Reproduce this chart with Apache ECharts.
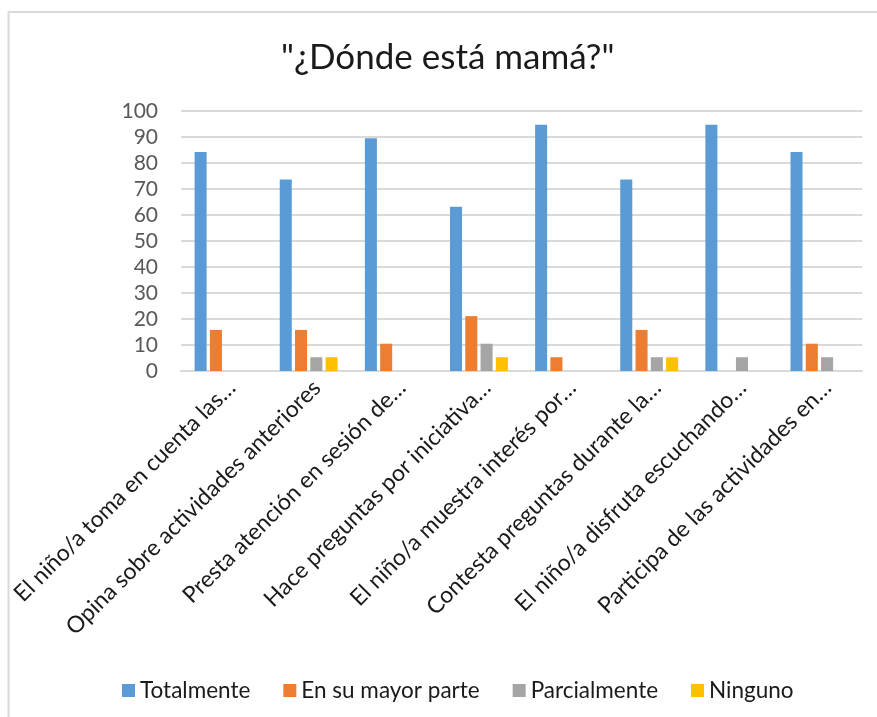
<!DOCTYPE html>
<html>
<head>
<meta charset="utf-8">
<script src="https://cdn.jsdelivr.net/npm/echarts@6/dist/echarts.min.js"></script>
<style>
  html, body { margin: 0; padding: 0; background: #fff; }
  #chart { width: 877px; height: 717px; }
</style>
</head>
<body>
<div id="chart"></div>
<script>
// categorias (texto recortado como en la imagen)
var categories = [
  "El niño/a toma en cuenta las…",
  "Opina sobre actividades anteriores",
  "Presta atención en sesión de…",
  "Hace preguntas por iniciativa…",
  "El niño/a muestra interés por…",
  "Contesta preguntas durante la…",
  "El niño/a disfruta escuchando…",
  "Participa de las actividades en…"
];
var seriesNames = ["Totalmente", "En su mayor parte", "Parcialmente", "Ninguno"];
var totalmente = [84.2, 73.7, 89.5, 63.2, 94.7, 73.7, 94.7, 84.2];
var mayorParte = [15.8, 15.8, 10.5, 21.1, 5.3, 15.8, 0, 10.5];
var parcialmente = [0, 5.3, 0, 10.5, 0, 5.3, 5.3, 5.3];
var ninguno = [0, 5.3, 0, 5.3, 0, 5.3, 0, 0];
var yTicks = [0, 10, 20, 30, 40, 50, 60, 70, 80, 90, 100];

var colors = ["#5B9BD5", "#ED7D31", "#A5A5A5", "#FFC000"];
var font = "Lato";

var chart = echarts.init(document.getElementById("chart"));

function barSeries(name, data) {
  return {
    name: name,
    type: "bar",
    data: data,
    barGap: "27%",
    barCategoryGap: "32%"
  };
}

var option = {
  animation: false,
  color: colors,
  textStyle: { fontFamily: font },
  graphic: [
    {
      // marco del grafico
      type: "rect",
      shape: { x: 8.5, y: 12, width: 1000, height: 1000 },
      style: { fill: "none", stroke: "#d9d9d9", lineWidth: 2 },
      silent: true
    }
  ],
  title: {
    text: "\"¿Dónde está mamá?\"",
    left: 281,
    top: 40,
    padding: 0,
    textStyle: { fontFamily: font, fontSize: 35, fontWeight: "normal", color: "#1a1a1a" }
  },
  legend: {
    data: seriesNames,
    left: 117,
    top: 674,
    itemWidth: 13,
    itemHeight: 13,
    itemGap: 33,
    icon: "rect",
    textStyle: { fontFamily: font, fontSize: 22.5, color: "#1a1a1a" }
  },
  grid: {
    left: 181,
    right: 15,
    top: 111,
    height: 260,
    containLabel: false
  },
  xAxis: {
    type: "category",
    data: categories,
    axisLine: { lineStyle: { color: "#d9d9d9", width: 2 } },
    axisTick: { show: false },
    axisLabel: {
      rotate: 45,
      interval: 0,
      margin: 5,
      verticalAlign: "top",
      fontFamily: font,
      fontSize: 23,
      color: "#1a1a1a"
    }
  },
  yAxis: {
    type: "value",
    min: yTicks[0],
    max: yTicks[yTicks.length - 1],
    interval: 10,
    axisLine: { show: false },
    axisTick: { show: false },
    splitLine: { lineStyle: { color: "#d9d9d9", width: 2 } },
    axisLabel: { fontFamily: font, fontSize: 21, color: "#595959", margin: 23 }
  },
  series: [
    barSeries(seriesNames[0], totalmente),
    barSeries(seriesNames[1], mayorParte),
    barSeries(seriesNames[2], parcialmente),
    barSeries(seriesNames[3], ninguno)
  ]
};

chart.setOption(option);
</script>
</body>
</html>
